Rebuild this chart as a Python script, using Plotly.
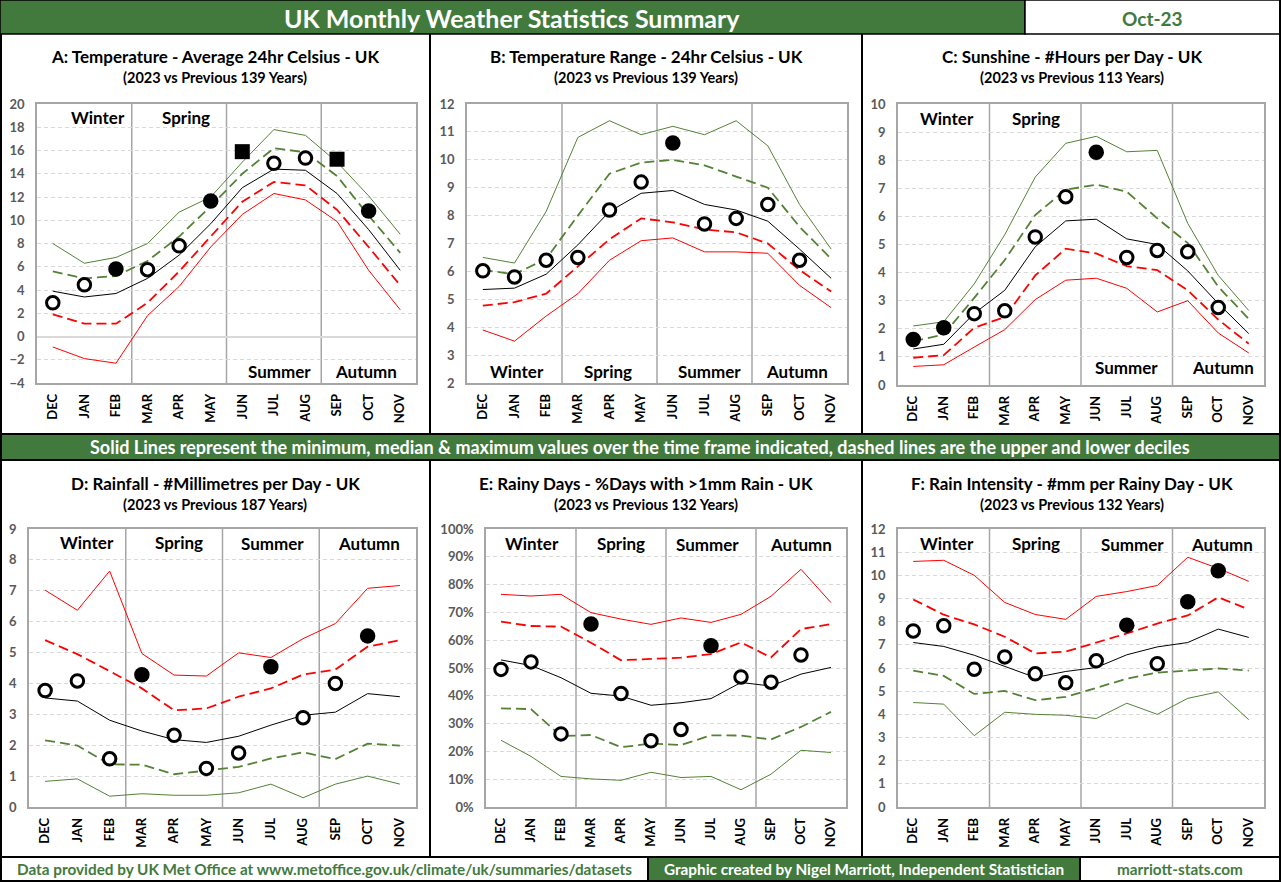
import plotly.graph_objects as go

W, H = 1281, 882
FONT = "Lato"
GREEN_HDR = "#427A3E"
GREEN = "#548235"
RED = "#FF0000"

months = ["DEC", "JAN", "FEB", "MAR", "APR", "MAY", "JUN", "JUL", "AUG", "SEP", "OCT", "NOV"]
seasons = ["Winter", "Spring", "Summer", "Autumn"]

# ---- A: Temperature ----
a_max = [8.0, 6.3, 6.8, 8.0, 10.7, 12.0, 15.0, 17.8, 17.3, 15.0, 12.1, 8.8]
a_ud = [5.6, 5.0, 5.2, 6.5, 8.6, 11.2, 14.0, 16.2, 15.85, 13.8, 10.4, 7.2]
a_med = [3.9, 3.4, 3.7, 5.0, 7.0, 9.7, 12.8, 14.4, 14.3, 12.3, 9.2, 5.7]
a_ld = [1.9, 1.1, 1.1, 2.9, 5.6, 8.6, 11.6, 13.3, 13.0, 10.9, 7.7, 4.4]
a_min = [-0.9, -1.9, -2.3, 1.8, 4.3, 7.7, 10.5, 12.3, 11.75, 9.9, 5.7, 2.3]
a_2023 = [2.9, 4.45, 5.8, 5.75, 7.8, 11.65, 15.9, 14.9, 15.35, 15.25, 10.8, None]

# ---- B: Temperature range ----
b_max = [6.5, 6.3, 8.15, 10.8, 11.4, 10.9, 11.2, 10.9, 11.4, 10.5, 8.4, 6.8]
b_ud = [6.05, 5.9, 6.45, 8.0, 9.5, 9.9, 10.0, 9.8, 9.4, 9.0, 7.6, 6.45]
b_med = [5.35, 5.4, 5.9, 6.95, 8.15, 8.8, 8.9, 8.4, 8.2, 7.8, 6.8, 5.75]
b_ld = [4.77, 4.9, 5.2, 6.18, 7.15, 7.9, 7.76, 7.5, 7.4, 7.0, 6.05, 5.28]
b_min = [3.9, 3.5, 4.4, 5.2, 6.4, 7.1, 7.2, 6.7, 6.7, 6.65, 5.5, 4.7]
b_2023 = [6.02, 5.8, 6.4, 6.5, 8.2, 9.2, 10.6, 7.7, 7.9, 8.4, 6.4, None]

# ---- C: Sunshine ----
c_max = [2.1, 2.25, 3.6, 5.35, 7.4, 8.6, 8.85, 8.3, 8.35, 5.75, 3.9, 2.65]
c_ud = [1.55, 1.8, 3.1, 4.45, 6.05, 6.95, 7.13, 6.88, 5.93, 5.05, 3.5, 2.35]
c_med = [1.28, 1.45, 2.55, 3.37, 4.92, 5.84, 5.9, 5.2, 5.0, 4.06, 2.9, 1.83]
c_ld = [0.97, 1.06, 2.04, 2.42, 3.9, 4.85, 4.68, 4.23, 4.09, 3.37, 2.33, 1.47]
c_min = [0.66, 0.72, 1.35, 1.97, 3.04, 3.73, 3.8, 3.44, 2.6, 3.0, 1.85, 1.14]
c_2023 = [1.62, 2.04, 2.54, 2.64, 5.27, 6.7, 8.28, 4.54, 4.79, 4.74, 2.76, None]

# ---- D: Rainfall ----
d_max = [7.02, 6.37, 7.64, 4.97, 4.27, 4.24, 4.99, 4.84, 5.45, 5.94, 7.08, 7.17]
d_ud = [5.4, 4.95, 4.4, 3.84, 3.13, 3.19, 3.57, 3.84, 4.29, 4.45, 5.19, 5.4]
d_med = [3.53, 3.43, 2.81, 2.46, 2.18, 2.09, 2.29, 2.65, 2.97, 3.07, 3.67, 3.57]
d_ld = [2.16, 1.99, 1.38, 1.37, 1.06, 1.17, 1.3, 1.57, 1.77, 1.55, 2.05, 1.99]
d_min = [0.83, 0.91, 0.35, 0.43, 0.38, 0.38, 0.46, 0.74, 0.3, 0.74, 1.0, 0.74]
d_2023 = [3.77, 4.08, 1.56, 4.28, 2.32, 1.25, 1.75, 4.54, 2.89, 4.0, 5.54, None]

# ---- E: Rainy days (%) ----
e_max = [76.5, 75.9, 76.5, 69.9, 67.6, 65.7, 68.0, 66.4, 69.3, 75.8, 85.5, 73.5]
e_ud = [66.7, 65.1, 64.9, 59.1, 52.8, 53.2, 53.7, 55.0, 59.2, 53.8, 64.0, 65.8]
e_med = [52.9, 50.9, 46.5, 40.9, 39.9, 36.6, 37.5, 39.0, 44.8, 43.5, 47.8, 50.2]
e_ld = [35.5, 35.2, 25.5, 25.9, 21.5, 22.8, 22.3, 25.8, 25.7, 24.3, 28.8, 34.2]
e_min = [24.0, 18.2, 11.0, 10.1, 9.6, 12.5, 10.6, 11.0, 6.2, 11.8, 20.4, 19.6]
e_2023 = [49.5, 52.2, 26.3, 65.8, 40.8, 23.8, 27.9, 58.0, 46.8, 44.9, 54.7, None]

# ---- F: Rain intensity ----
f_max = [10.6, 10.65, 10.0, 8.83, 8.31, 8.1, 9.09, 9.3, 9.56, 10.78, 10.3, 9.74]
f_ud = [8.96, 8.3, 7.88, 7.35, 6.63, 6.71, 7.1, 7.49, 7.92, 8.27, 9.05, 8.53]
f_med = [7.1, 6.93, 6.55, 6.08, 5.59, 5.85, 6.02, 6.57, 6.91, 7.1, 7.68, 7.32]
f_ld = [5.89, 5.66, 4.88, 5.01, 4.61, 4.75, 5.14, 5.54, 5.8, 5.9, 5.98, 5.89]
f_min = [4.51, 4.44, 3.08, 4.09, 4.0, 3.96, 3.82, 4.48, 4.0, 4.69, 4.97, 3.77]
f_2023 = [7.6, 7.82, 5.95, 6.48, 5.75, 5.36, 6.31, 7.85, 6.18, 8.86, 10.2, None]

titles = [
    "A: Temperature - Average 24hr Celsius - UK",
    "B: Temperature Range - 24hr Celsius - UK",
    "C: Sunshine - #Hours per Day - UK",
    "D: Rainfall - #Millimetres per Day - UK",
    "E: Rainy Days - %Days with >1mm Rain - UK",
    "F: Rain Intensity - #mm per Rainy Day - UK",
]
subtitles = [
    "(2023 vs Previous 139 Years)",
    "(2023 vs Previous 139 Years)",
    "(2023 vs Previous 113 Years)",
    "(2023 vs Previous 187 Years)",
    "(2023 vs Previous 132 Years)",
    "(2023 vs Previous 132 Years)",
]

# layout config (pixel geometry)
panels = [
    dict(data=(a_max, a_ud, a_med, a_ld, a_min, a_2023), rng=[-4, 20], dt=2, sfx="",
         box=(37, 416, 104, 383), cell=(0, 430, 35, 432), hot_high=False,
         seas=[(98, 117), (186, 117), (279, 371), (366, 371)]),
    dict(data=(b_max, b_ud, b_med, b_ld, b_min, b_2023), rng=[2, 12], dt=1, sfx="",
         box=(467, 847, 104, 383), cell=(430, 862, 35, 432), hot_high=False,
         seas=[(517, 371), (608, 371), (710, 371), (797, 371)]),
    dict(data=(c_max, c_ud, c_med, c_ld, c_min, c_2023), rng=[0, 10], dt=1, sfx="",
         box=(898, 1264, 104, 385), cell=(862, 1281, 35, 432), hot_high=False,
         seas=[(947, 118), (1036, 118), (1126, 367), (1223, 367)]),
    dict(data=(d_max, d_ud, d_med, d_ld, d_min, d_2023), rng=[0, 9], dt=1, sfx="",
         box=(29, 416, 529, 807), cell=(0, 430, 461, 857), hot_high=True,
         seas=[(87, 542), (179, 542), (272, 543), (369, 543)]),
    dict(data=(e_max, e_ud, e_med, e_ld, e_min, e_2023), rng=[0, 100], dt=10, sfx="%",
         box=(486, 846, 529, 807), cell=(430, 862, 461, 857), hot_high=True,
         seas=[(532, 543), (621, 543), (708, 544), (801, 544)]),
    dict(data=(f_max, f_ud, f_med, f_ld, f_min, f_2023), rng=[0, 12], dt=1, sfx="",
         box=(898, 1264, 529, 807), cell=(862, 1281, 461, 857), hot_high=True,
         seas=[(947, 543), (1036, 543), (1132, 544), (1222, 544)]),
]


def PX(x):
    return x / W


def PY(y):
    return 1 - y / H


def classify(v, mx, ud, ld, mn):
    if v is None:
        return None
    if v > mx or v < mn:
        return "square"
    if v > ud or v < ld:
        return "filled"
    return "open"


fig = go.Figure()
shapes = []
annotations = []
layout_axes = {}

for i, p in enumerate(panels):
    n = "" if i == 0 else str(i + 1)
    xa, ya = "x" + n, "y" + n
    mx, ud, med, ld, mn, cur = p["data"]
    top_col = RED if p["hot_high"] else GREEN
    bot_col = GREEN if p["hot_high"] else RED
    lines = [
        (mx, top_col, 1, "solid"),
        (ud, top_col, 1.8, "10px,5px"),
        (med, "black", 1, "solid"),
        (ld, bot_col, 1.8, "10px,5px"),
        (mn, bot_col, 1, "solid"),
    ]
    for vals, col, w, dash in lines:
        fig.add_trace(go.Scatter(x=months, y=vals, mode="lines", xaxis=xa, yaxis=ya,
                                 line=dict(color=col, width=w, dash=dash),
                                 showlegend=False, hoverinfo="skip"))
    kinds = [classify(v, a, b, c, d) for v, a, b, c, d in zip(cur, mx, ud, ld, mn)]
    styles = {
        "open": dict(symbol="circle", size=12.5, color="white", line=dict(color="black", width=3)),
        "filled": dict(symbol="circle", size=15.5, color="black", line=dict(color="black", width=0)),
        "square": dict(symbol="square", size=15, color="black", line=dict(color="black", width=0)),
    }
    for k, st in styles.items():
        ys = [v if kk == k else None for v, kk in zip(cur, kinds)]
        fig.add_trace(go.Scatter(x=months, y=ys, mode="markers", xaxis=xa, yaxis=ya,
                                 marker=st, showlegend=False, hoverinfo="skip"))

    x0, x1, y0, y1 = p["box"]
    layout_axes["xaxis" + n] = dict(
        domain=[PX(x0), PX(x1)], anchor=ya, type="category", range=[-0.5, 11.5],
        showgrid=False, showline=True, mirror=True, linecolor="#A6A6A6", linewidth=1.5,
        tickangle=-90, tickfont=dict(family=FONT, size=13, color="black", weight="bold"),
        ticks="", ticklabelstandoff=4, fixedrange=True, zeroline=False, automargin=False,
    )
    layout_axes["yaxis" + n] = dict(
        domain=[PY(y1), PY(y0)], anchor=xa, range=p["rng"], dtick=p["dt"], ticksuffix=p["sfx"],
        showgrid=True, gridcolor="#D9D9D9", griddash="4px,3px", gridwidth=1,
        zeroline=(p["rng"][0] < 0), zerolinecolor="#D9D9D9", zerolinewidth=1.5,
        showline=True, mirror=True, linecolor="#A6A6A6", linewidth=1.5,
        tickfont=dict(family=FONT, size=13, color="#595959", weight="bold"),
        ticks="", ticklabelstandoff=8, fixedrange=True, automargin=False,
    )
    # season dividers
    for xv in (2.5, 5.5, 8.5):
        shapes.append(dict(type="line", xref=xa, yref=ya + " domain", x0=xv, x1=xv, y0=0, y1=1,
                           line=dict(color="#A6A6A6", width=1.5), layer="below"))
    # season labels
    for s, (sx, sy) in zip(seasons, p["seas"]):
        annotations.append(dict(xref="paper", yref="paper", x=PX(sx), y=PY(sy), text="<b>" + s + "</b>",
                                showarrow=False, font=dict(family=FONT, size=17, color="black"),
                                xanchor="center", yanchor="middle"))
    # titles
    cx0, cx1, cy0, cy1 = p["cell"]
    cxm = (cx0 + cx1) / 2
    annotations.append(dict(xref="paper", yref="paper", x=PX(cxm), y=PY(cy0 + 22),
                            text="<b>" + titles[i] + "</b>", showarrow=False,
                            font=dict(family=FONT, size=17, color="black"),
                            xanchor="center", yanchor="middle"))
    annotations.append(dict(xref="paper", yref="paper", x=PX(cxm), y=PY(cy0 + 43),
                            text="<b>" + subtitles[i] + "</b>", showarrow=False,
                            font=dict(family=FONT, size=14.5, color="black"),
                            xanchor="center", yanchor="middle"))


def prect(x0, y0, x1, y1, fill="rgba(0,0,0,0)", lc="black", lw=2, layer="above"):
    return dict(type="rect", xref="paper", yref="paper", x0=PX(x0), x1=PX(x1), y0=PY(y1), y1=PY(y0),
                fillcolor=fill, line=dict(color=lc, width=lw), layer=layer)


def pline(x0, y0, x1, y1, lc="black", lw=2):
    return dict(type="line", xref="paper", yref="paper", x0=PX(x0), x1=PX(x1), y0=PY(y0), y1=PY(y1),
                line=dict(color=lc, width=lw), layer="above")


# header
shapes.append(prect(0, 0, 1025, 34, fill=GREEN_HDR, lc="black", lw=1.5, layer="below"))
shapes.append(prect(1025, 0, 1281, 34, fill="white", lc="black", lw=1.5, layer="below"))
annotations.append(dict(xref="paper", yref="paper", x=PX(512), y=PY(18),
                        text="<b>UK Monthly Weather Statistics Summary</b>", showarrow=False,
                        font=dict(family=FONT, size=25, color="white"), xanchor="center", yanchor="middle"))
annotations.append(dict(xref="paper", yref="paper", x=PX(1152), y=PY(18),
                        text="<b>Oct-23</b>", showarrow=False,
                        font=dict(family=FONT, size=19, color=GREEN_HDR), xanchor="center", yanchor="middle"))
# panel borders
shapes.append(pline(1, 34, 1, 882))
shapes.append(pline(1280, 0, 1280, 882))
shapes.append(pline(430, 34, 430, 434))
shapes.append(pline(862, 34, 862, 434))
shapes.append(pline(430, 460, 430, 857))
shapes.append(pline(862, 460, 862, 857))
# banner
shapes.append(prect(0, 434, 1281, 460, fill=GREEN_HDR, lc="black", lw=2, layer="below"))
annotations.append(dict(xref="paper", yref="paper", x=PX(640), y=PY(447),
                        text="<b>Solid Lines represent the minimum, median &amp; maximum values over the time frame indicated, dashed lines are the upper and lower deciles</b>",
                        showarrow=False, font=dict(family=FONT, size=18, color="white"),
                        xanchor="center", yanchor="middle"))
# footer
shapes.append(prect(0, 857, 648, 881, fill="white", lc="black", lw=2, layer="below"))
shapes.append(prect(648, 857, 1080, 881, fill=GREEN_HDR, lc="black", lw=2, layer="below"))
shapes.append(prect(1080, 857, 1281, 881, fill="white", lc="black", lw=2, layer="below"))
foot = [
    (324, "Data provided by UK Met Office at www.metoffice.gov.uk/climate/uk/summaries/datasets", GREEN_HDR),
    (864, "Graphic created by Nigel Marriott, Independent Statistician", "white"),
    (1180, "marriott-stats.com", GREEN_HDR),
]
for fx, ft, fc in foot:
    annotations.append(dict(xref="paper", yref="paper", x=PX(fx), y=PY(869), text="<b>" + ft + "</b>",
                            showarrow=False, font=dict(family=FONT, size=15.3, color=fc),
                            xanchor="center", yanchor="middle"))

fig.update_layout(
    width=W, height=H, margin=dict(l=0, r=0, t=0, b=0, autoexpand=False),
    paper_bgcolor="white", plot_bgcolor="white",
    font=dict(family=FONT), showlegend=False,
    shapes=shapes, annotations=annotations, **layout_axes,
)

fig.write_html("out.html", config={"displayModeBar": False})
